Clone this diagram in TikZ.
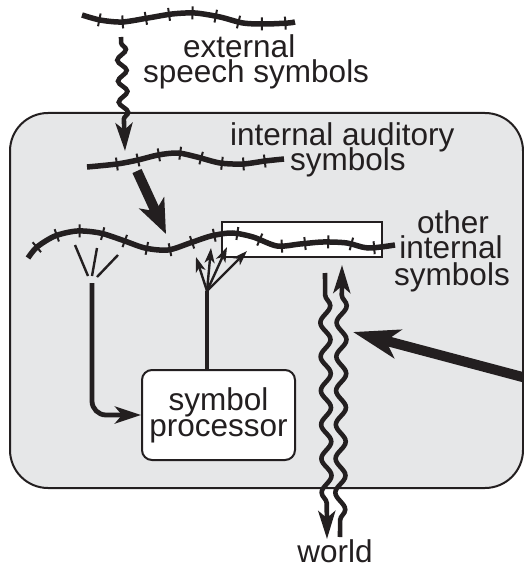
\documentclass[tikz,border=0pt]{standalone}
\usepackage{fontspec}
\setmainfont{Liberation Sans}
\usetikzlibrary{decorations.pathmorphing,decorations.markings,arrows.meta,calc}
\definecolor{ink}{HTML}{231F20}
\definecolor{bggray}{HTML}{E6E7E8}
\tikzset{
  wtip/.tip={Stealth[length=28pt, width=17pt, inset=7pt]},
  fantip/.tip={Stealth[length=15pt, width=10pt, inset=4pt]}
}
\begin{document}
\begin{tikzpicture}[x=1pt,y=-1pt,
  every node/.style={font=\fontsize{31.5}{26}\selectfont, text=ink, inner sep=0pt},
  symline/.style={draw=ink, line width=5.5pt},
  tickmarks/.style n args={3}{postaction={decorate, decoration={markings,
      mark=between positions #1 and #2 step #3 with {\draw[ink,line width=2pt] (0pt,-6.5pt)--(0pt,6.5pt);}}}},
  bigarrow/.style={draw=ink, line width=10pt},
  wavyline/.style={draw=ink, line width=4.6pt, decorate},
  conn/.style={draw=ink, line width=4.8pt},
  fanline/.style={draw=ink, line width=2.4pt}
]
\useasboundingbox (0,0) rectangle (524,567);

% frame
\draw[ink, line width=2pt, fill=bggray, rounded corners=38pt] (10,113) rectangle (523,488);

% top external speech line
\draw[symline, tickmarks={18pt}{-4pt}{23.5pt}] plot[smooth, tension=0.5] coordinates
  {(82,15) (100,20) (122,22) (148,18) (172,14) (195,13) (220,17) (243,23) (265,24) (288,23) (295,22)};
\node[anchor=base west] (ext1) at (183,58) {external};
\node[anchor=base west] (ext2) at (143,83) {speech symbols};

% wavy arrow into frame
\coordinate (sqA) at (121,37);
\coordinate (sqB) at (125,151);
\draw[wavyline, -{wtip}, decoration={snake, amplitude=4.5pt, segment length=21pt, pre length=6pt, post length=30pt}] (sqA) -- (sqB);

% internal auditory line
\draw[symline, tickmarks={30pt}{-12pt}{21.5pt}] plot[smooth, tension=0.5] coordinates
  {(87,167) (117,164) (138,160) (158,155) (178,153) (197,157) (220,163) (243,164) (265,161) (284,159)};
\node[anchor=base west] (aud1) at (230,145) {internal auditory};
\node[anchor=base west] (aud2) at (290,170) {symbols};

% thick arrow
\coordinate (taA) at (137,171);
\coordinate (taB) at (166,234);
\draw[bigarrow, -{Stealth[length=34pt, width=27pt, inset=9pt]}] (taA) -- (taB);

% other internal symbols box
\node[draw=ink, line width=1.8pt, fill=white, minimum width=160pt, minimum height=35pt] (otherbox) at (302,239.5) {};

% main line
\draw[symline, tickmarks={14pt}{-20pt}{23.3pt}] plot[smooth, tension=0.5] coordinates
  {(28,258) (37,247) (55,236) (77,231) (100,233) (122,240) (145,248) (168,250) (190,243) (211,236) (232,233) (253,237) (277,246) (300,244) (323,242) (347,243) (368,248) (395,245)};
\node[anchor=base] (oth1) at (453,233) {other};
\node[anchor=base] (oth2) at (451,258) {internal};
\node[anchor=base] (oth3) at (452,285) {symbols};

% symbol processor
\node[draw=ink, line width=2pt, fill=white, rounded corners=10pt, minimum width=153pt, minimum height=90pt, align=center] (proc) at (218.5,415) {symbol\\processor};

% left fan (reading)
\coordinate (fanA) at (92,283);
\draw[fanline] (75,245) -- (88,276);
\draw[fanline] (97,248) -- (92,276);
\draw[fanline] (118,255) -- (97,277);
\draw[conn, rounded corners=14pt, -{Stealth[length=26pt, width=17pt, inset=7pt]}] (fanA) |- (proc.west);

% right fan (writing)
\coordinate (fanB) at (207,291);
\draw[conn] (fanB |- proc.north) -- (fanB);
\draw[fanline, -{fantip}] (fanB) -- (196,257);
\draw[fanline, -{fantip}] (fanB) -- (211,248);
\draw[fanline, -{fantip}] (fanB) -- (227,247);
\draw[fanline, -{fantip}] (fanB) -- (247,251);

% world wavy lines
\coordinate (wlA) at (325,273);
\coordinate (wlB) at (327,539);
\coordinate (wrA) at (342,265);
\coordinate (wrB) at (340,537);
\draw[wavyline, -{wtip}, decoration={snake, amplitude=5pt, segment length=34pt, pre length=22pt, post length=32pt}] (wlA) -- (wlB);
\draw[wavyline, {wtip}-, decoration={snake, amplitude=5pt, segment length=34pt, pre length=30pt, post length=4pt}] (wrA) -- (wrB);
\node[anchor=base] (world) at (335,562) {world};

% big arrow from right
\coordinate (raA) at (530,379);
\coordinate (raB) at (353,332);
\draw[bigarrow, -{Stealth[length=46pt, width=29pt, inset=12pt]}] (raA) -- (raB);
\end{tikzpicture}
\end{document}
